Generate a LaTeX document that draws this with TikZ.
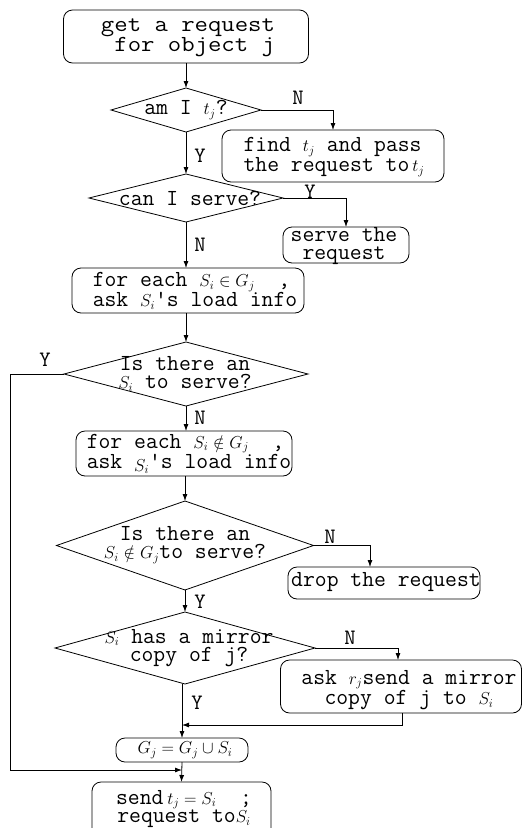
\documentclass[tikz,border=0pt]{standalone}
\usepackage{fontspec}
\usetikzlibrary{shapes.geometric,arrows.meta}
\newcommand{\mm}[1]{{\fontsize{17}{17}\selectfont$#1$}}
\begin{document}
\begin{tikzpicture}[x=1pt,y=-1pt,line width=0.8pt,
  box/.style={draw,rounded corners=9pt,inner sep=0pt,outer sep=0pt},
  dia/.style={draw,diamond,inner sep=0pt,outer sep=0pt},
  txt/.style={font=\ttfamily\fontsize{23}{18.5}\selectfont,inner sep=0pt,align=center},
  txtl/.style={font=\ttfamily\fontsize{23}{18.5}\selectfont,inner sep=0pt,align=left},
  lbl/.style={font=\ttfamily\fontsize{22}{22}\selectfont,inner sep=0pt},
  arr/.style={-{Latex[length=7pt,width=5pt]}}]
\fill[white,use as bounding box] (0,0) rectangle (523,828);
\clip (0,0) rectangle (523,828);
% shapes
\node[box,minimum width=245pt,minimum height=53pt] (b1) at (186,36.5) {};
\node[dia,minimum width=150pt,minimum height=44pt] (d1) at (186,110) {};
\node[box,minimum width=222pt,minimum height=52pt] (b2) at (333,156) {};
\node[dia,minimum width=194pt,minimum height=48pt] (d2) at (186,198) {};
\node[box,minimum width=126pt,minimum height=36pt] (b3) at (346,245) {};
\node[box,minimum width=232pt,minimum height=45pt] (b4) at (188,290.5) {};
\node[dia,minimum width=244pt,minimum height=64pt] (d3) at (186,374) {};
\node[box,minimum width=216pt,minimum height=45pt] (b5) at (184,453.5) {};
\node[dia,minimum width=257pt,minimum height=89pt] (d4) at (185,545.5) {};
\node[box,minimum width=192pt,minimum height=32pt] (b6) at (384,583) {};
\node[dia,minimum width=260pt,minimum height=72pt] (d5) at (185,648) {};
\node[box,minimum width=241pt,minimum height=53pt] (b7) at (401,686.5) {};
\node[box,minimum width=132pt,minimum height=24pt] (b8) at (182,750) {};
\node[box,minimum width=179pt,minimum height=58pt] (b9) at (181.5,811) {};
\coordinate (lx) at (10,0);
\coordinate (j1) at (182,770);
\coordinate (j2) at (182,725);
% texts
\node[txt] (t1) at (188,38) {\scalebox{1.13}[1]{\begin{tabular}{@{}l@{}}get a request\\\ for object j\end{tabular}}};
\node[txt] (t1b) at (186,110) {am I \mm{t_j}?};
\node[txtl] (t2) at (334,157) {find \mm{t_j} and pass\\the request to\mm{\,t_j}};
\node[txt] (t2b) at (190,198) {can I serve?};
\node[txt] (t3) at (344,246) {serve the\\request};
\node[txtl] (t4) at (195,291) {for each \mm{S_i\in G_j}\ \ ,\\ask \mm{S_i}'s load info};
\node[txt] (t5) at (185,374) {Is there an\\\mm{S_i} to serve?};
\node[txtl] (t6) at (189,454) {for each \mm{S_i\notin G_j}\ \ ,\\ask \raisebox{-3pt}{\mm{S_i}}'s load info};
\node[txt] (t7) at (185,545) {Is there an\\\mm{S_i\notin G_j}to serve?};
\node[txt] (t8) at (386,582) {drop the request};
\node[txt] (t9) at (189,648) {\mm{S_i} has a mirror\\copy of j?};
\node[txt] (t10) at (409,690) {ask \mm{r_j}send a mirror\\copy of j to \mm{S_i}};
\node[txt] (t11) at (185,750) {\mm{G_j = G_j \cup S_i}};
\node[txt] (t12) at (184,809) {send\,\mm{t_j = S_i}\ \ ;\\request to\mm{S_i}};
% connectors
\draw[arr] (b1.south) -- (d1.north);
\draw[arr] (d1.east) -| (b2.north);
\draw[arr] (d1.south) -- (d2.north);
\draw[arr] (d2.east) -| (b3.north);
\draw[arr] (d2.south) -- (d2.south |- b4.north);
\draw[arr] (d3.north |- b4.south) -- (d3.north);
\draw[arr] (d3.west) -- (d3.west -| lx) |- (j1);
\draw[arr] (d3.south) -- (d3.south |- b5.north);
\draw[arr] (d4.north |- b5.south) -- (d4.north);
\draw[arr] (d4.east) -| ([xshift=-14pt]b6.north);
\draw[arr] (d4.south) -- (d5.north);
\draw[arr] (d5.east) -| ([xshift=-3pt]b7.north);
\draw[arr] (d5.south -| b8.north) -- (b8.north);
\draw[arr] ([xshift=1pt]b7.south) |- (j2);
\draw[arr] (b8.south) -- (b9.north);
% branch labels
\node[lbl] (l1) at (298,98) {N};
\node[lbl] (l2) at (200,156) {Y};
\node[lbl] (l3) at (310,192) {Y};
\node[lbl] (l4) at (200,245) {N};
\node[lbl] (l5) at (45,360) {Y};
\node[lbl] (l6) at (200,418) {N};
\node[lbl] (l7) at (330,537) {N};
\node[lbl] (l8) at (200,602) {Y};
\node[lbl] (l9) at (350,638) {N};
\node[lbl] (l10) at (197,703) {Y};
\end{tikzpicture}
\end{document}
